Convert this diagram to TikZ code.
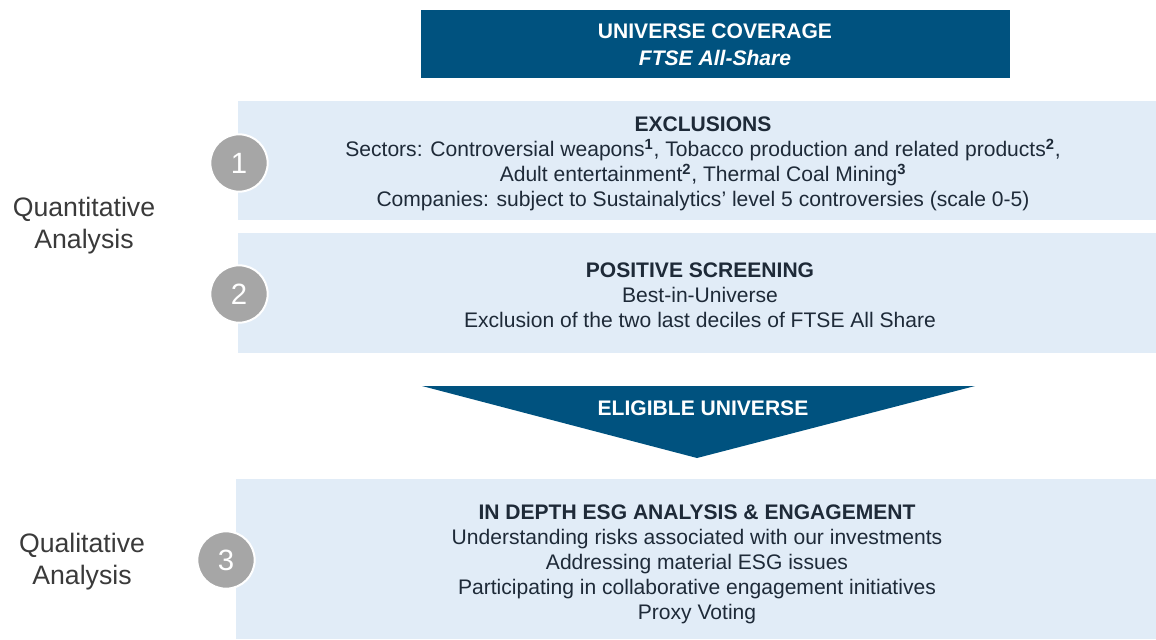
\documentclass[tikz,border=0pt]{standalone}
\usepackage{fontspec}
\setmainfont{Liberation Sans}
\usepackage{xcolor}

\definecolor{navy}{HTML}{00527F}
\definecolor{paleblue}{HTML}{E1ECF7}
\definecolor{numgray}{HTML}{A6A6A6}
\definecolor{inkdark}{HTML}{1E2A38}
\definecolor{labelgray}{HTML}{3A3A3A}

\begin{document}
\begin{tikzpicture}[x=0.75pt, y=-0.75pt]
\tikzstyle{every node}=[font=\fontsize{15.8}{18.75}\selectfont, text=inkdark, inner sep=0pt]
\tikzstyle{stepnum}=[circle, fill=numgray, draw=white, line width=1.5pt, minimum size=43pt, text=white, font=\fontsize{22}{22}\selectfont]
\tikzstyle{sidelabel}=[align=center, text=labelgray, font=\fontsize{20}{24}\selectfont]
\tikzstyle{boxtext}=[align=center]

\useasboundingbox (0, 0) rectangle (1156, 639);

% universe coverage
\fill[navy] (421, 10) rectangle (1010, 78);
    \node[text=white, align=center, font=\fontsize{15.8}{20}\selectfont\bfseries] (coverage) at (715, 45)
        {UNIVERSE COVERAGE\\\textit{FTSE All-Share}};

% step 1
\fill[paleblue] (238, 101) rectangle (1156, 220);
    \node[boxtext] (exclusions) at (703, 164)
        {\textbf{EXCLUSIONS}\\
         Sectors: Controversial weapons\textsuperscript{\textbf{1}}, Tobacco production and related products\textsuperscript{\textbf{2}},\\
         Adult entertainment\textsuperscript{\textbf{2}}, Thermal Coal Mining\textsuperscript{\textbf{3}}\\
         Companies: subject to Sustainalytics’ level 5 controversies (scale 0-5)};

% step 2
\fill[paleblue] (238, 233) rectangle (1156, 353);
    \node[boxtext] (screening) at (700, 295)
        {\textbf{POSITIVE SCREENING}\\
         Best-in-Universe\\
         Exclusion of the two last deciles of FTSE All Share};

% eligible universe
\fill[navy] (422, 386) -- (975, 386) -- (697, 458) -- cycle;
    \node[text=white, font=\fontsize{15.8}{18}\selectfont\bfseries] (eligible) at (703, 408) {ELIGIBLE UNIVERSE};

% step 3
\fill[paleblue] (236, 479) rectangle (1156, 639);
    \node[boxtext] (analysis) at (697, 564)
        {\textbf{IN DEPTH ESG ANALYSIS \& ENGAGEMENT}\\
         Understanding risks associated with our investments\\
         Addressing material ESG issues\\
         Participating in collaborative engagement initiatives\\
         Proxy Voting};

% numbers
\node[stepnum] (one) at (239, 163) {1};
\node[stepnum] (two) at (239, 294) {2};
\node[stepnum] (three) at (226, 560) {3};

% side labels
\node[sidelabel] (quant) at (84, 226) {Quantitative\\Analysis};
\node[sidelabel] (qual) at (82, 562) {Qualitative\\Analysis};

\end{tikzpicture}
\end{document}
